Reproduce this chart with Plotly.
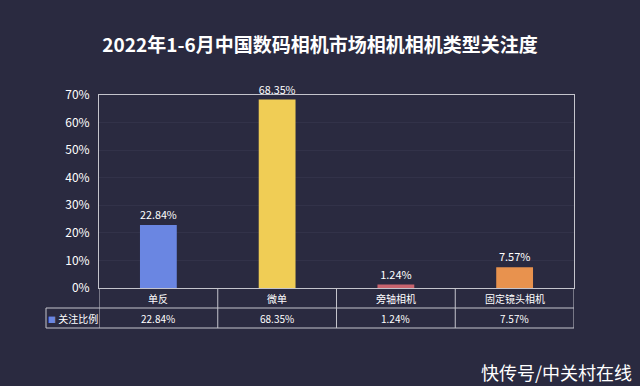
import plotly.graph_objects as go

title = "2022年1-6月中国数码相机市场相机相机类型关注度"
categories = ["单反", "微单", "旁轴相机", "固定镜头相机"]
values = [22.84, 68.35, 1.24, 7.57]
series_name = "关注比例"
bar_colors = ["#6a86e2", "#f0cd55", "#c8646e", "#e8924e"]
y_ticks = [0, 10, 20, 30, 40, 50, 60, 70]
watermark = "快传号/中关村在线"

BG = "#2a2a40"
LINE = "#c4c4cc"
FONT = "Noto Sans CJK SC"

fig = go.Figure()
fig.add_trace(go.Bar(
    x=categories, y=values, marker=dict(color=bar_colors, line=dict(width=0)),
    width=0.31, text=[f"{v:.2f}%" for v in values], textposition="outside",
    textfont=dict(color="white", size=11, family=FONT), cliponaxis=False,
    name=series_name, showlegend=False,
))

plot_w = 475
plot_h = 386 - 95 - 98
row = 20 / plot_h
lab_left = (46 - 99) / plot_w

shapes = []
for k in [1, 2]:
    shapes.append(dict(type="line", xref="x", yref="paper", x0=-0.5, x1=3.5,
                       y0=-row * k, y1=-row * k, line=dict(color=LINE, width=1)))
shapes.append(dict(type="line", xref="paper", yref="paper", x0=lab_left, x1=0,
                   y0=-row, y1=-row, line=dict(color=LINE, width=1)))
shapes.append(dict(type="line", xref="paper", yref="paper", x0=lab_left, x1=0,
                   y0=-2 * row, y1=-2 * row, line=dict(color=LINE, width=1)))
shapes.append(dict(type="line", xref="paper", yref="paper", x0=lab_left, x1=lab_left,
                   y0=-row, y1=-2 * row, line=dict(color=LINE, width=1)))
for i in range(len(categories) + 1):
    shapes.append(dict(type="line", xref="x", yref="paper", x0=i - 0.5, x1=i - 0.5,
                       y0=0, y1=-2 * row, line=dict(color=LINE, width=1)))

annotations = []
for c, v in zip(categories, values):
    annotations.append(dict(x=c, y=-row / 2, xref="x", yref="paper", text=c,
                            xanchor="center", yanchor="middle", showarrow=False,
                            font=dict(color="white", size=10, family=FONT)))
    annotations.append(dict(x=c, y=-row * 1.5, xref="x", yref="paper", text=f"{v:.2f}%",
                            xanchor="center", yanchor="middle", showarrow=False,
                            font=dict(color="white", size=10, family=FONT)))
annotations.append(dict(x=lab_left / 2, y=-row * 1.5, xref="paper", yref="paper",
                        xanchor="center", yanchor="middle",
                        text=f"<span style='color:#6a86e2;font-size:8px'>■</span> {series_name}",
                        showarrow=False, font=dict(color="white", size=10, family=FONT)))
annotations.append(dict(x=(634 - 99) / plot_w, y=-(372 - 288) / plot_h, xref="paper", yref="paper",
                        xanchor="right", yanchor="middle", text=watermark, showarrow=False,
                        font=dict(color="white", size=18, family=FONT)))

fig.update_layout(
    width=640, height=386,
    paper_bgcolor=BG, plot_bgcolor=BG,
    margin=dict(l=99, r=66, t=95, b=98),
    title=dict(text=f"<b>{title}</b>", x=0.5, xanchor="center", y=1 - 45 / 386, yanchor="middle",
               font=dict(color="white", size=19, family=FONT)),
    xaxis=dict(range=[-0.5, 3.5], showticklabels=False, showgrid=False, zeroline=False,
               showline=True, linecolor=LINE, linewidth=1, mirror=True, fixedrange=True),
    yaxis=dict(range=[0, 70], tickvals=y_ticks, ticktext=[f"{t}%" for t in y_ticks],
               showgrid=True, gridcolor="#323249", gridwidth=1, zeroline=False,
               showline=True, linecolor=LINE, linewidth=1, mirror=True,
               tickfont=dict(color="white", size=12, family=FONT), ticks="", ticklabelstandoff=6),
    shapes=shapes, annotations=annotations,
    font=dict(family=FONT),
)

fig.write_html("out.html", config={"displayModeBar": False},
               post_script="document.body.style.margin='0';document.body.style.background='#2a2a40';")
